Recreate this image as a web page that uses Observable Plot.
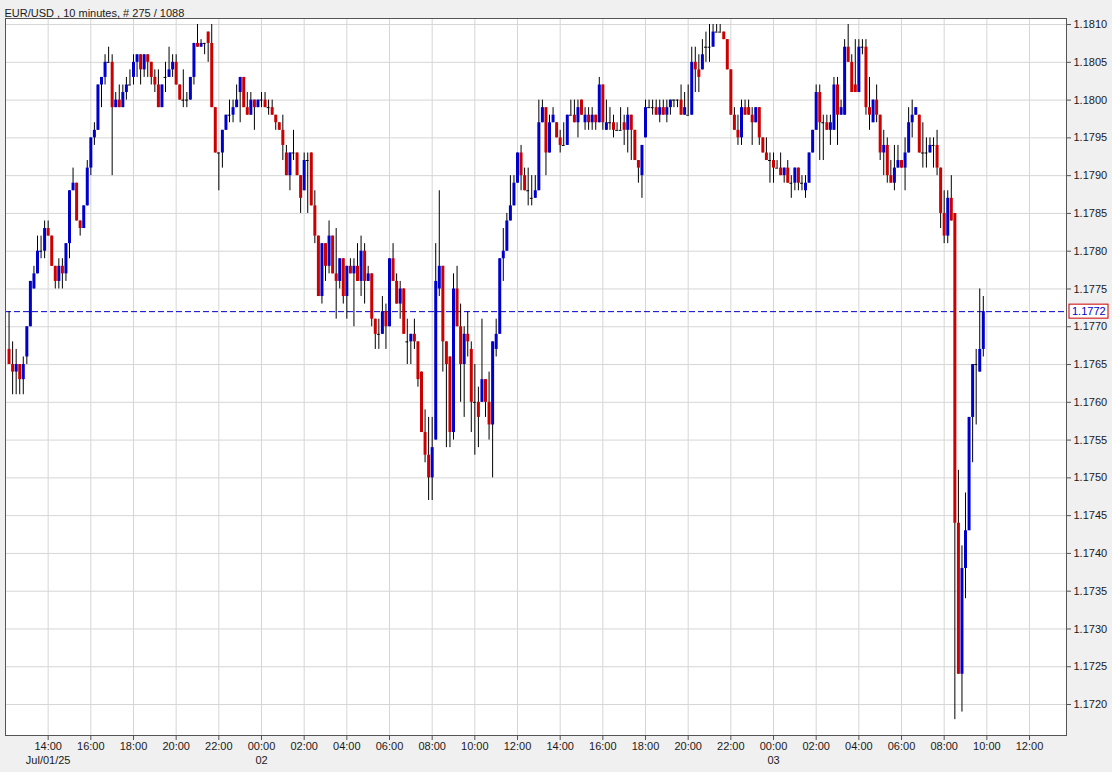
<!DOCTYPE html>
<html>
<head>
<meta charset="utf-8">
<script src="https://cdn.jsdelivr.net/npm/d3@7"></script>
<script src="https://cdn.jsdelivr.net/npm/@observablehq/plot@0.6"></script>
<style>
  html, body { margin: 0; padding: 0; background: #f0f0f0; }
  #chart svg { display: block; }
</style>
</head>
<body>
<div id="chart"></div>
<script>
// ---- data (EUR/USD, 10-minute candles, first bar Jul 01 2025 12:10) ----
const firstBar = "2025-07-01T12:10:00Z";
const barMinutes = 10;
const title = "EUR/USD , 10 minutes, # 275 / 1088";
const lastPrice = 1.1772;

const open = [
1.1767,1.1765,1.1764,1.1765,1.1763,1.1766,1.1770,1.1775,1.1777,1.1780,
1.1780,1.1783,1.1782,1.1778,1.1776,1.1778,1.1777,1.1781,1.1788,1.1789,
1.1784,1.1783,1.1786,1.1791,1.1795,1.1796,1.1802,1.1803,1.1805,1.1805,
1.1799,1.1800,1.1799,1.1801,1.1802,1.1803,1.1805,1.1806,1.1804,1.1806,
1.1805,1.1803,1.1802,1.1799,1.1803,1.1803,1.1804,1.1805,1.1802,1.1800,
1.1800,1.1800,1.1803,1.18075,1.1807,1.18075,1.1809,1.18075,1.1799,1.1793,
1.1793,1.1796,1.1798,1.1798,1.1799,1.1801,1.1803,1.1799,1.1798,1.1800,
1.1799,1.1800,1.1800,1.1799,1.1799,1.1798,1.1797,1.1796,1.1793,1.1790,
1.1793,1.1793,1.1790,1.1788,1.1792,1.1793,1.1786,1.1782,1.1774,1.1781,
1.1778,1.1782,1.1777,1.1776,1.1779,1.1774,1.1778,1.1777,1.1778,1.1776,
1.1780,1.1776,1.1777,1.1771,1.1769,1.1769,1.1772,1.1770,1.1779,1.1776,
1.1773,1.1775,1.1768,1.1768,1.1769,1.1768,1.1764,1.1756,1.1753,1.1750,
1.1755,1.1775,1.1778,1.1768,1.1766,1.1756,1.1775,1.1770,1.1765,1.1769,
1.1767,1.1760,1.1760,1.1760,1.1763,1.1760,1.1757,1.1767,1.1769,1.1779,
1.1780,1.1784,1.1786,1.1789,1.1793,1.1790,1.1788,1.1787,1.1787,1.1788,
1.1797,1.1799,1.1793,1.1797,1.1797,1.1795,1.1794,1.1794,1.1798,1.1798,
1.1797,1.1800,1.1797,1.1798,1.1797,1.1798,1.1797,1.1802,1.1796,1.1797,
1.1797,1.1796,1.1796,1.1797,1.1796,1.1798,1.1796,1.1792,1.1790,1.1795,
1.1799,1.1799,1.1799,1.1798,1.1799,1.1798,1.1799,1.1800,1.1800,1.1800,
1.1798,1.1798,1.1798,1.1805,1.1804,1.1804,1.1807,1.1807,1.1807,1.1809,
1.1809,1.1809,1.1808,1.1804,1.1798,1.1796,1.1795,1.1799,1.1799,1.1798,
1.1797,1.1799,1.1795,1.1793,1.1792,1.1792,1.1791,1.1791,1.1790,1.1791,
1.1789,1.1789,1.1791,1.1789,1.1788,1.1789,1.1793,1.1796,1.1801,1.1797,
1.1797,1.1796,1.1796,1.1802,1.1798,1.1798,1.1807,1.1805,1.1802,1.1801,
1.1807,1.1807,1.1799,1.1797,1.1800,1.1798,1.1793,1.1794,1.1790,1.1789,
1.1791,1.1792,1.1791,1.1793,1.1797,1.1798,1.1798,1.1793,1.1793,1.1793,
1.1794,1.1794,1.1791,1.1785,1.1782,1.1787,1.1785,1.1744,1.1724,1.1738,
1.1743,1.1758,1.1765,1.1764,1.1767
];
const high = [
1.1772,1.1768,1.1767,1.1765,1.1766,1.1770,1.1776,1.1778,1.1782,1.1782,
1.1784,1.1784,1.1782,1.1778,1.1779,1.1779,1.1781,1.1788,1.1791,1.1789,
1.1784,1.1786,1.1792,1.1795,1.1797,1.1802,1.1803,1.1806,1.1807,1.1806,
1.1801,1.1802,1.1802,1.1803,1.1804,1.1806,1.1806,1.1806,1.1806,1.1806,
1.1805,1.1804,1.1804,1.1802,1.1805,1.1807,1.1806,1.1806,1.1802,1.1804,
1.1801,1.1803,1.18075,1.1810,1.1808,1.18075,1.1809,1.1810,1.1799,1.1793,
1.1796,1.1798,1.1800,1.1800,1.1802,1.1803,1.1803,1.1801,1.1801,1.1800,
1.1800,1.1801,1.1801,1.1800,1.1800,1.1798,1.1797,1.1798,1.1794,1.1793,
1.1796,1.1793,1.1790,1.1793,1.1793,1.1793,1.1788,1.1782,1.1781,1.1781,
1.1784,1.1782,1.1783,1.1779,1.1779,1.1778,1.1779,1.1779,1.1781,1.1782,
1.1781,1.1778,1.1777,1.1771,1.1771,1.1774,1.1773,1.1779,1.1781,1.1777,
1.1776,1.1775,1.1771,1.1769,1.1771,1.1768,1.1764,1.1759,1.1758,1.1758,
1.1781,1.1788,1.1778,1.1768,1.1766,1.1777,1.1778,1.1773,1.1770,1.1772,
1.1768,1.1765,1.1762,1.1771,1.1763,1.1764,1.1768,1.1771,1.1779,1.1783,
1.1785,1.1790,1.1790,1.1793,1.1794,1.1791,1.1791,1.1790,1.1790,1.1800,
1.1800,1.1799,1.1798,1.1799,1.1797,1.1796,1.1797,1.1798,1.1800,1.1800,
1.1800,1.1800,1.1799,1.1799,1.1799,1.1798,1.1803,1.1802,1.1800,1.1799,
1.1798,1.1797,1.1799,1.1798,1.1799,1.1798,1.1796,1.1792,1.1794,1.1800,
1.1800,1.1800,1.1800,1.1800,1.1800,1.1800,1.1800,1.1800,1.1800,1.1802,
1.1801,1.1802,1.1807,1.1807,1.1806,1.1808,1.1809,1.1810,1.1810,1.1810,
1.1810,1.1809,1.1808,1.1804,1.1799,1.1798,1.1800,1.1800,1.1800,1.1799,
1.1799,1.1799,1.1795,1.1795,1.1793,1.1793,1.1792,1.1793,1.1791,1.1792,
1.1790,1.1791,1.1791,1.1790,1.1790,1.1793,1.1796,1.1802,1.1802,1.1798,
1.1798,1.1798,1.1803,1.1803,1.1800,1.1808,1.1810,1.1806,1.1808,1.1808,
1.1808,1.1808,1.1803,1.1800,1.1802,1.1798,1.1796,1.1795,1.1792,1.1794,
1.1794,1.1792,1.1795,1.1799,1.1800,1.1799,1.1798,1.1797,1.1795,1.1795,
1.1795,1.1796,1.1791,1.1788,1.1788,1.1790,1.1785,1.1751,1.1741,1.1748,
1.1758,1.1765,1.1767,1.1775,1.1774
];
const low = [
1.1765,1.1761,1.1761,1.1761,1.1761,1.1765,1.1770,1.1775,1.1777,1.1779,
1.1779,1.1782,1.1778,1.1775,1.1775,1.1775,1.1776,1.1779,1.1788,1.1784,
1.1782,1.1783,1.1786,1.1790,1.1794,1.1796,1.1799,1.1802,1.1805,1.1790,
1.1799,1.1799,1.1799,1.1800,1.1802,1.1802,1.1803,1.1802,1.1803,1.1803,
1.1802,1.1801,1.1799,1.1799,1.1801,1.1803,1.1803,1.1802,1.1800,1.1799,
1.1799,1.1800,1.1802,1.1807,1.1807,1.1806,1.1805,1.1799,1.1793,1.1788,
1.1791,1.1796,1.1797,1.1797,1.1799,1.1797,1.1799,1.1798,1.1798,1.1796,
1.1799,1.1799,1.1799,1.1798,1.1798,1.1796,1.1796,1.1792,1.1790,1.1788,
1.1792,1.1790,1.1785,1.1788,1.1785,1.1786,1.1781,1.1774,1.1773,1.1776,
1.1777,1.1777,1.1771,1.1775,1.1773,1.1771,1.1777,1.1770,1.1776,1.1774,
1.1773,1.1776,1.1770,1.1767,1.1767,1.1769,1.1767,1.1770,1.1776,1.1773,
1.1771,1.1769,1.1765,1.1765,1.1767,1.1762,1.1756,1.1752,1.1747,1.1747,
1.1755,1.1774,1.1764,1.1754,1.1754,1.1755,1.1770,1.1760,1.1758,1.1766,
1.1756,1.1753,1.1754,1.1760,1.1758,1.1755,1.1750,1.1766,1.1769,1.1776,
1.1780,1.1784,1.1786,1.1789,1.1788,1.1788,1.1786,1.1786,1.1787,1.1788,
1.1797,1.1790,1.1793,1.1797,1.1795,1.1793,1.1794,1.1794,1.1798,1.1797,
1.1795,1.1798,1.1796,1.1796,1.1796,1.1796,1.1797,1.1796,1.1796,1.1796,
1.1795,1.1796,1.1796,1.1794,1.1793,1.1792,1.1792,1.1789,1.1787,1.1795,
1.1799,1.1798,1.1798,1.1797,1.1798,1.1797,1.1798,1.1799,1.1799,1.1798,
1.1798,1.1798,1.1798,1.1801,1.1801,1.1804,1.1805,1.1805,1.1807,1.1809,
1.1809,1.1808,1.1804,1.1798,1.1796,1.1794,1.1794,1.1798,1.1798,1.1794,
1.1797,1.1794,1.1793,1.1792,1.1789,1.1789,1.1791,1.1790,1.1789,1.1789,
1.1787,1.1788,1.1788,1.1788,1.1787,1.1789,1.1793,1.1796,1.1792,1.1792,
1.1796,1.1794,1.1796,1.1794,1.1798,1.1798,1.1805,1.1801,1.1801,1.1801,
1.1806,1.1798,1.1796,1.1797,1.1797,1.1792,1.1790,1.1789,1.1789,1.1788,
1.1791,1.1791,1.1788,1.1793,1.1795,1.1798,1.1793,1.1791,1.1791,1.1793,
1.1791,1.1790,1.1783,1.1781,1.1781,1.1784,1.1718,1.1724,1.1719,1.1734,
1.1743,1.1752,1.1757,1.1764,1.1766
];
const close = [
1.1765,1.1764,1.1765,1.1763,1.1765,1.1770,1.1776,1.1777,1.1780,1.1780,
1.1783,1.1782,1.1778,1.1776,1.1778,1.1777,1.1781,1.1788,1.1789,1.1784,
1.1783,1.1786,1.1791,1.1795,1.1796,1.1802,1.1803,1.1805,1.1805,1.1799,
1.1800,1.1799,1.1801,1.1802,1.1802,1.1805,1.1806,1.1804,1.1806,1.1805,
1.1803,1.1802,1.1799,1.1802,1.1803,1.1804,1.1805,1.1802,1.1800,1.1800,
1.1800,1.1803,1.18075,1.1807,1.18075,1.18075,1.18075,1.1799,1.1793,1.1793,
1.1796,1.1798,1.1798,1.1799,1.1800,1.1803,1.1799,1.1798,1.1800,1.1799,
1.1800,1.1800,1.1799,1.1799,1.1798,1.1797,1.1796,1.1794,1.1790,1.1793,
1.1793,1.1790,1.1787,1.1792,1.1792,1.1786,1.1782,1.1774,1.1781,1.1778,
1.1782,1.1777,1.1776,1.1779,1.1774,1.1778,1.1777,1.1778,1.1776,1.1780,
1.1776,1.1777,1.1771,1.1769,1.1769,1.1772,1.1770,1.1779,1.1776,1.1773,
1.1775,1.1769,1.1768,1.1769,1.1768,1.1763,1.1756,1.1753,1.1750,1.1754,
1.1776,1.1778,1.1768,1.1765,1.1756,1.1775,1.1770,1.1765,1.1769,1.1768,
1.1760,1.1760,1.1758,1.1763,1.1760,1.1757,1.1768,1.1769,1.1779,1.1780,
1.1784,1.1786,1.1789,1.1793,1.1790,1.1788,1.1788,1.1787,1.1788,1.1797,
1.1799,1.1793,1.1797,1.1798,1.1795,1.1794,1.1794,1.1798,1.1798,1.1797,
1.1799,1.1798,1.1798,1.1797,1.1798,1.1797,1.1802,1.1797,1.1797,1.1797,
1.1796,1.1796,1.1796,1.1796,1.1798,1.1796,1.1792,1.1791,1.1794,1.1799,
1.1799,1.1799,1.1798,1.1799,1.1798,1.1799,1.1800,1.1800,1.1800,1.1798,
1.1799,1.1798,1.1805,1.1804,1.1803,1.1806,1.1807,1.1807,1.1809,1.1809,
1.1809,1.1808,1.1804,1.1798,1.1796,1.1795,1.1799,1.1798,1.1798,1.1797,
1.1799,1.1795,1.1793,1.1792,1.1792,1.1791,1.1791,1.1790,1.1791,1.1789,
1.1789,1.1791,1.1789,1.1789,1.1789,1.1793,1.1796,1.1801,1.1797,1.1797,
1.1796,1.1797,1.1802,1.1798,1.1799,1.1807,1.1805,1.1801,1.1801,1.1807,
1.1807,1.1799,1.1798,1.1800,1.1798,1.1793,1.1794,1.1790,1.1789,1.1791,
1.1792,1.1791,1.1793,1.1797,1.1798,1.1799,1.1793,1.1793,1.1793,1.1794,
1.1794,1.1791,1.1785,1.1782,1.1787,1.1784,1.1744,1.1724,1.1738,1.1743,
1.1758,1.1765,1.1765,1.1767,1.1772
];

// axis labels
const priceTicks = d3.range(11720, 11811, 5).map(v => v / 10000);
const dateLabelTimes = ["2025-07-01T14:00:00Z", "2025-07-02T00:00:00Z", "2025-07-03T00:00:00Z"];
const dateLabelTexts = ["Jul/01/25", "02", "03"];

// ---- build ----
const t0 = new Date(firstBar);
const candles = open.map((o, i) => ({
  t: d3.utcMinute.offset(t0, i * barMinutes),
  o, h: high[i], l: low[i], c: close[i]
}));
const ups = candles.filter(d => d.c > d.o);
const downs = candles.filter(d => d.c < d.o);
const dojis = candles.filter(d => d.c === d.o);

const xDomain = [new Date("2025-07-01T12:00:00Z"), new Date("2025-07-03T13:44:00Z")];
const timeTicks = d3.utcHour.every(2).range(new Date("2025-07-01T14:00:00Z"), new Date("2025-07-03T13:00:00Z"));
const dateLabels = dateLabelTimes.map((s, i) => ({t: new Date(s), label: dateLabelTexts[i]}));

const UP = "#0000cc", DOWN = "#cc0000", GRID = "#d6d6d6";

const chart = Plot.plot({
  width: 1112,
  height: 772,
  marginLeft: 5,
  marginRight: 46,
  marginTop: 18,
  marginBottom: 37,
  style: {background: "#f0f0f0", fontFamily: "'Liberation Sans', Arial, sans-serif", fontSize: "11px", color: "#1a1a1a"},
  x: {type: "utc", domain: xDomain},
  y: {domain: [1.17159, 1.18108]},
  marks: [
    Plot.frame({fill: "white", stroke: null}),
    Plot.gridY(priceTicks, {stroke: GRID, strokeOpacity: 1}),
    Plot.gridX(timeTicks, {stroke: GRID, strokeOpacity: 1}),
    Plot.ruleY([lastPrice], {stroke: UP, strokeDasharray: "6,3"}),
    Plot.ruleX(candles, {x: "t", y1: "l", y2: "h", stroke: "black", strokeWidth: 1}),
    Plot.ruleX(ups, {x: "t", y1: "o", y2: "c", stroke: UP, strokeWidth: 3}),
    Plot.ruleX(downs, {x: "t", y1: "o", y2: "c", stroke: DOWN, strokeWidth: 3}),
    Plot.ruleY(dojis, {y: "c", x1: d => d3.utcMinute.offset(d.t, -4), x2: d => d3.utcMinute.offset(d.t, 4), stroke: "black"}),
    Plot.frame({stroke: "#555"}),
    Plot.axisY(priceTicks, {anchor: "right", tickSize: 4, tickPadding: 3, tickFormat: d => d.toFixed(4), label: null, stroke: "#555"}),
    Plot.axisX(timeTicks, {anchor: "bottom", tickSize: 5, tickPadding: 2, tickFormat: d3.utcFormat("%H:%M"), label: null, stroke: "#555"}),
    Plot.text(dateLabels, {x: "t", text: "label", frameAnchor: "bottom", dy: 28}),
    Plot.text([title], {frameAnchor: "top-left", textAnchor: "start", dx: -1, dy: -9})
  ]
});

// current price label box on the right axis
const ys = chart.scale("y");
const xs = chart.scale("x");
const py = ys.apply(lastPrice);
const rx = xs.range[1] + 3;
const g = d3.select(chart).append("g");
g.append("rect").attr("x", rx).attr("y", py - 7).attr("width", 39).attr("height", 14)
  .attr("fill", "white").attr("stroke", DOWN).attr("stroke-width", 1);
g.append("text").attr("x", rx + 3).attr("y", py).attr("dy", "0.35em")
  .attr("text-anchor", "start")
  .attr("fill", UP).attr("font-size", 11).text(lastPrice.toFixed(4));

document.getElementById("chart").append(chart);
</script>
</body>
</html>
